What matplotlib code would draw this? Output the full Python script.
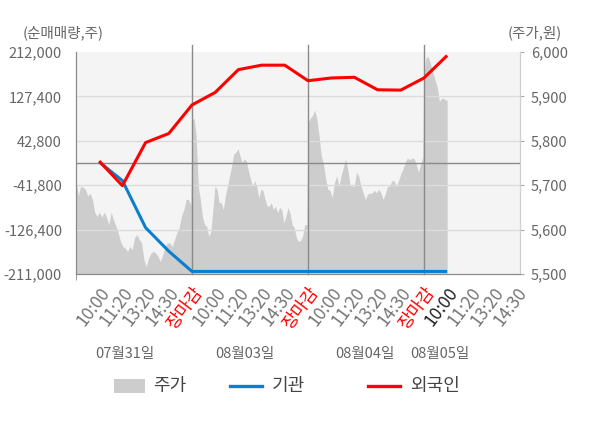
import numpy as np
import matplotlib
matplotlib.use('Agg')
import matplotlib.pyplot as plt
from matplotlib.patches import Rectangle
from matplotlib.lines import Line2D

plt.rcParams['font.family'] = ['Noto Sans CJK KR', 'DejaVu Sans']

# x axis labels (categorical slots, slot 0 = 09:00 of first day)
time_labels = ['10:00', '11:20', '13:20', '14:30', '장마감',
               '10:00', '11:20', '13:20', '14:30', '장마감',
               '10:00', '11:20', '13:20', '14:30', '장마감',
               '10:00', '11:20', '13:20', '14:30']
date_labels = ['07월31일', '08월03일', '08월04일', '08월05일']
date_pos = [2.1, 7.3, 12.45, 15.7]

# net buying (주), one value per slot 1..16
foreign = [4200, -42700, 39400, 56700, 111100, 135000, 178400, 186900,
           186900, 157300, 162500, 163800, 140000, 139400, 162500, 205300]
institution = [2300, -33000, -122700, -167600, -206100, -206100, -206100, -206100,
               -206100, -206100, -206100, -206100, -206100, -206100, -206100, -206100]

# intraday price (원), per day
price_d1 = [5712, 5676, 5698, 5695, 5691, 5676, 5682, 5668, 5639, 5630, 5639, 5628,
            5639, 5628, 5611, 5639, 5622, 5608, 5593, 5573, 5562, 5558, 5551, 5562,
            5555, 5582, 5589, 5578, 5570, 5532, 5517, 5536, 5547, 5551, 5547, 5540,
            5528, 5543, 5562, 5570, 5570, 5562, 5577, 5593, 5604, 5630, 5645, 5668,
            5668, 5655]
price_d2 = [5850, 5850, 5812, 5698, 5668, 5630, 5611, 5608, 5585, 5595, 5645, 5698,
            5690, 5661, 5661, 5645, 5676, 5698, 5721, 5744, 5770, 5774, 5782, 5767,
            5751, 5759, 5755, 5733, 5714, 5698, 5710, 5698, 5672, 5691, 5688, 5668,
            5653, 5653, 5660, 5645, 5653, 5638, 5650, 5645, 5615, 5630, 5650, 5636,
            5611, 5604, 5582, 5573, 5576, 5585, 5611, 5611]
price_d3 = [5842, 5850, 5857, 5869, 5850, 5812, 5767, 5748, 5714, 5691, 5688, 5672,
            5706, 5721, 5698, 5721, 5740, 5759, 5736, 5702, 5698, 5698, 5729, 5720,
            5698, 5683, 5668, 5680, 5682, 5682, 5689, 5683, 5691, 5683, 5668, 5680,
            5697, 5698, 5710, 5710, 5697, 5710, 5725, 5736, 5751, 5761, 5757, 5761,
            5760, 5748, 5729, 5748, 5763]
price_d4 = [5948, 5986, 5990, 5979, 5964, 5948, 5934, 5918, 5888, 5895, 5896, 5892, 5892]

px = np.concatenate([np.linspace(0.0, 4.95, len(price_d1)),
                     np.linspace(5.0, 9.95, len(price_d2)),
                     np.linspace(10.0, 14.95, len(price_d3)),
                     np.linspace(15.0, 16.0, len(price_d4))])
py = np.array(price_d1 + price_d2 + price_d3 + price_d4)
slots = np.arange(1, len(foreign) + 1)

fig = plt.figure(figsize=(6, 4.28), dpi=100)
ax = fig.add_axes([76/600, 1-274/428, 444/600, 222/428])
ax2 = ax.twinx()

# price area on the base axis (right scale)
ax.set_facecolor('#f4f4f4')
ax.fill_between(px, 5500, py, color='#cdcdcd', lw=0)
ax.set_ylim(5500, 6000)
ax.set_yticks(np.arange(5500, 6001, 100))
ax.set_yticklabels([f'{v:,}' for v in range(5500, 6001, 100)])
ax.yaxis.tick_right()
ax.set_xlim(0, 19.14)

left_ticks = [-211000, -126400, -41800, 42800, 127400, 212000]
for t in left_ticks[1:-1]:
    ax2.axhline(t, color='#dcdcdc', lw=1, zorder=0)
ax2.axhline(0, color='#8a8a8a', lw=1, zorder=1)
for d in [5, 10, 15]:
    ax2.axvline(d, ymin=0, ymax=1.03, color='#8a8a8a', lw=1, clip_on=False, zorder=1)

ax2.plot(slots, institution, color='#0a7fcf', lw=2.2, zorder=3, solid_capstyle='butt')
ax2.plot(slots, foreign, color='#ff0000', lw=2.2, zorder=4, solid_capstyle='butt')
ax2.set_ylim(-211000, 212000)
ax2.set_yticks(left_ticks)
ax2.set_yticklabels([f'{v:,}' for v in left_ticks])
ax2.yaxis.tick_left()
ax2.set_xlim(0, 19.14)

for a in (ax, ax2):
    a.spines['top'].set_visible(False)
    a.spines['left'].set_color('#8a8a8a')
    a.spines['bottom'].set_color('#8a8a8a')
    a.spines['right'].set_color('#cfcfcf')
    a.tick_params(axis='y', labelsize=10.5, labelcolor='#666666', color='#aaaaaa', length=3)

ax.tick_params(axis='y', pad=5)
ax2.tick_params(axis='y', length=0, pad=10)

# x ticks
ax.set_xticks(np.arange(1, 20))
ax.set_xticklabels(time_labels, rotation=53, ha='right', va='top', rotation_mode='anchor')
ax.set_xticks([0, 5, 10, 15], minor=True)
ax.tick_params(axis='x', which='major', length=0, pad=7, labelsize=12.5, labelcolor='#777777')
ax.tick_params(axis='x', which='minor', length=4, color='#8a8a8a')
ax2.tick_params(axis='x', length=0, labelbottom=False)
for i, lab in enumerate(ax.get_xticklabels()):
    if time_labels[i] == '장마감':
        lab.set_color('#ff0000')
    elif i == 15:
        lab.set_color('#222222')

for d, pos in zip(date_labels, date_pos):
    ax.text(pos, -0.36, d, transform=ax.get_xaxis_transform(), ha='center', va='center',
            fontsize=10.5, color='#666666')

fig.text(23/600, 1-33/428, '(순매매량,주)', fontsize=10.5, color='#666666', va='center', ha='left')
fig.text(562/600, 1-33/428, '(주가,원)', fontsize=10.5, color='#666666', va='center', ha='right')

# legend
ly = 1 - 386/428
fig.patches.append(Rectangle((114/600, ly - 7/428), 31/600, 14/428, transform=fig.transFigure,
                             color='#cdcdcd', lw=0))
fig.text(153/600, ly, '주가', fontsize=13, color='#444444', va='center', ha='left')
fig.lines.append(Line2D([230/600, 262/600], [ly, ly], transform=fig.transFigure,
                        color='#0a7fcf', lw=2.4))
fig.text(272/600, ly, '기관', fontsize=13, color='#444444', va='center', ha='left')
fig.lines.append(Line2D([368/600, 400/600], [ly, ly], transform=fig.transFigure,
                        color='#ff0000', lw=2.4))
fig.text(410/600, ly, '외국인', fontsize=13, color='#444444', va='center', ha='left')

fig.savefig('out.png', dpi=100)
